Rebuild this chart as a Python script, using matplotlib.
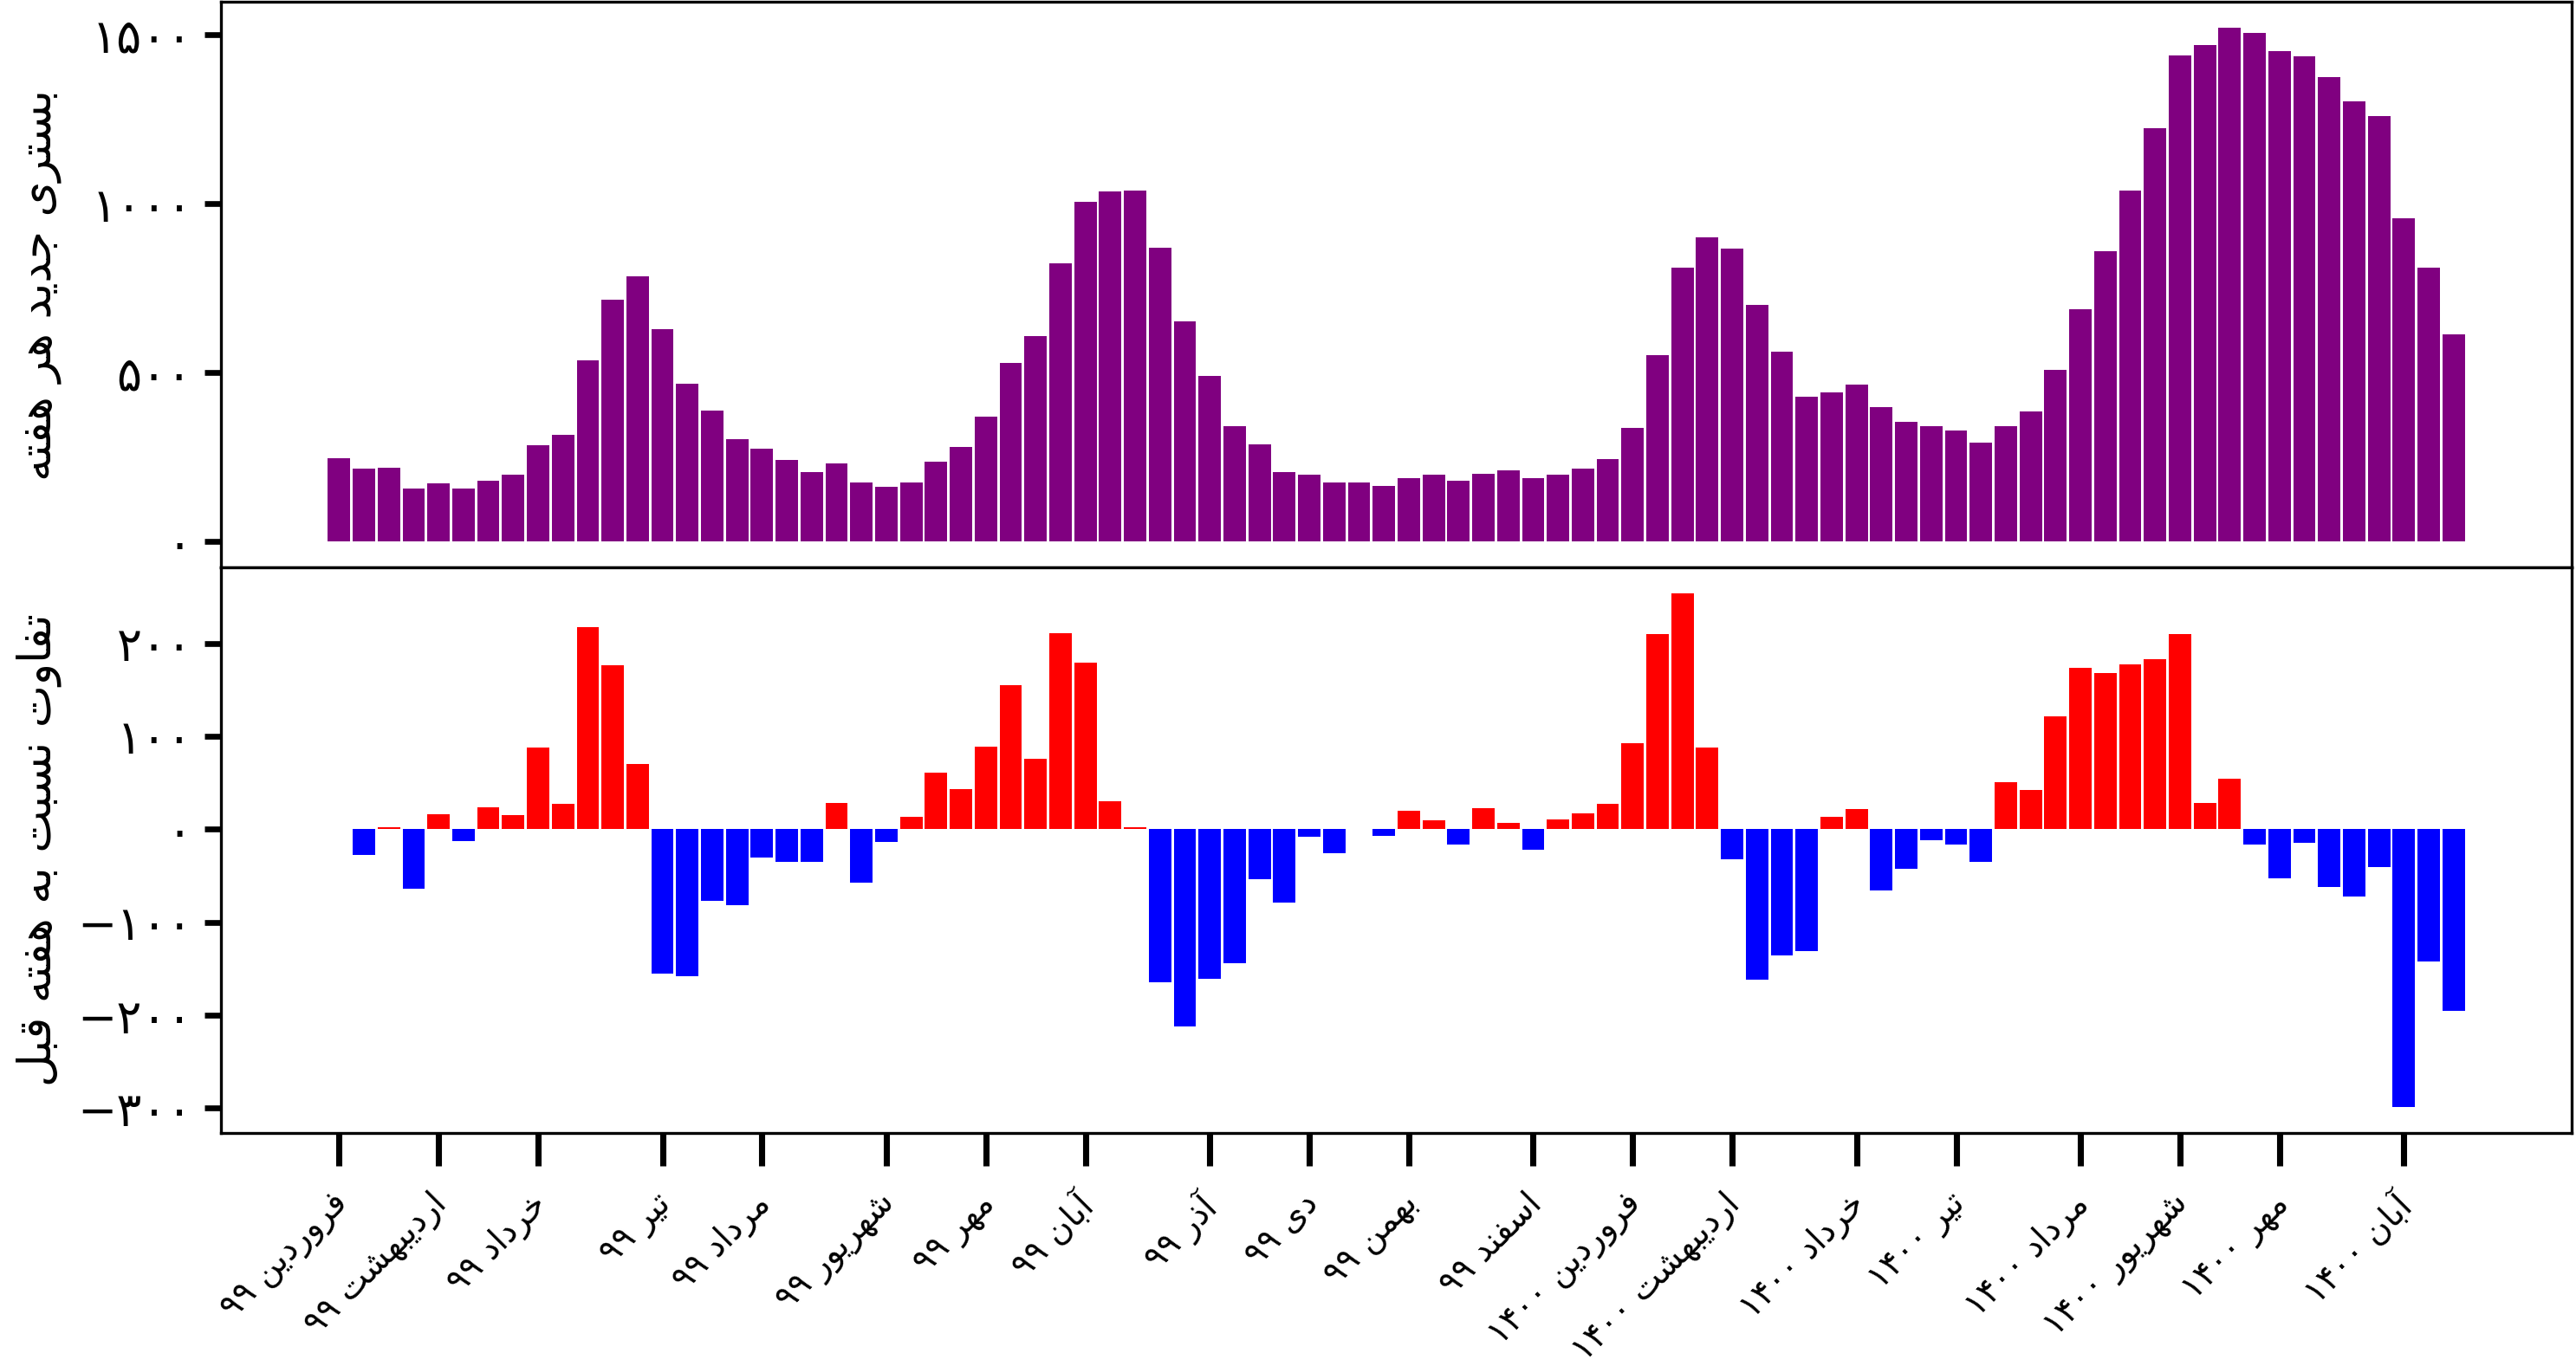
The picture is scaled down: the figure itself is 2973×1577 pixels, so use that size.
import numpy as np
import matplotlib
matplotlib.use('Agg')
import matplotlib.pyplot as plt
from matplotlib.ticker import FuncFormatter
from matplotlib.transforms import ScaledTranslation

plt.rcParams['font.family'] = ['DejaVu Sans']

# weekly new hospitalisations
weekly_admissions = [248, 217, 219, 156, 172, 158, 181, 197, 286, 315,
                     536, 716, 784, 629, 467, 389, 304, 276, 241, 205,
                     232, 176, 161, 174, 237, 281, 371, 529, 608, 824,
                     1005, 1036, 1038, 869, 652, 489, 342, 288, 207, 199,
                     174, 174, 166, 187, 197, 179, 201, 210, 189, 199,
                     215, 243, 337, 552, 811, 900, 867, 701, 563, 429,
                     442, 465, 399, 355, 342, 328, 292, 342, 386, 509,
                     688, 859, 1038, 1224, 1439, 1468, 1521, 1506, 1452, 1437,
                     1373, 1302, 1260, 956, 811, 614]

# change compared with the previous week
weekly_change = [np.nan, -28, 2, -64, 16, -13, 24, 15, 88, 27,
                 217, 176, 70, -155, -158, -77, -82, -30, -35, -35,
                 28, -57, -14, 13, 61, 43, 89, 155, 76, 211,
                 179, 30, 2, -165, -212, -161, -144, -54, -79, -8,
                 -26, 0, -7, 20, 10, -16, 23, 7, -22, 11,
                 17, 27, 93, 210, 254, 88, -32, -162, -136, -131,
                 13, 22, -66, -43, -12, -16, -35, 51, 42, 121,
                 174, 168, 177, 183, 210, 28, 54, -16, -53, -15,
                 -62, -72, -41, -299, -142, -195]

# month ticks (week index where each Persian month starts)
tick_weeks = [0, 4, 8, 13, 17, 22, 26, 30, 35, 39, 43, 48, 52, 56, 61, 65, 70, 74, 78, 83]
tick_months = ['فروردین', 'اردیبهشت', 'خرداد', 'تیر', 'مرداد', 'شهریور', 'مهر', 'آبان',
               'آذر', 'دی', 'بهمن', 'اسفند', 'فروردین', 'اردیبهشت', 'خرداد', 'تیر',
               'مرداد', 'شهریور', 'مهر', 'آبان']
tick_years = ['99'] * 12 + ['1400'] * 8

top_label = 'بستری جدید هر هفته'
bottom_label = 'تفاوت نسبت به هفته قبل'

# simple arabic shaping (matplotlib has no text shaping)
FORMS = {
    'ا': ('\uFE8D', '\uFE8E', None, None),
    'آ': ('\uFE81', '\uFE82', None, None),
    'ب': ('\uFE8F', '\uFE90', '\uFE91', '\uFE92'),
    'ت': ('\uFE95', '\uFE96', '\uFE97', '\uFE98'),
    'ج': ('\uFE9D', '\uFE9E', '\uFE9F', '\uFEA0'),
    'خ': ('\uFEA5', '\uFEA6', '\uFEA7', '\uFEA8'),
    'د': ('\uFEA9', '\uFEAA', None, None),
    'ذ': ('\uFEAB', '\uFEAC', None, None),
    'ر': ('\uFEAD', '\uFEAE', None, None),
    'ز': ('\uFEAF', '\uFEB0', None, None),
    'س': ('\uFEB1', '\uFEB2', '\uFEB3', '\uFEB4'),
    'ش': ('\uFEB5', '\uFEB6', '\uFEB7', '\uFEB8'),
    'ف': ('\uFED1', '\uFED2', '\uFED3', '\uFED4'),
    'ق': ('\uFED5', '\uFED6', '\uFED7', '\uFED8'),
    'ل': ('\uFEDD', '\uFEDE', '\uFEDF', '\uFEE0'),
    'م': ('\uFEE1', '\uFEE2', '\uFEE3', '\uFEE4'),
    'ن': ('\uFEE5', '\uFEE6', '\uFEE7', '\uFEE8'),
    'ه': ('\uFEE9', '\uFEEA', '\uFEEB', '\uFEEC'),
    'و': ('\uFEED', '\uFEEE', None, None),
    'ی': ('\uFBFC', '\uFBFD', '\uFBFE', '\uFBFF'),
}
FA_DIGITS = str.maketrans('0123456789-', '۰۱۲۳۴۵۶۷۸۹\u2212')


def shape(text):
    out = []
    for i, ch in enumerate(text):
        if ch not in FORMS:
            out.append(ch)
            continue
        iso, fin, ini, med = FORMS[ch]
        prev = text[i - 1] if i > 0 else None
        nxt = text[i + 1] if i < len(text) - 1 else None
        join_prev = prev in FORMS and FORMS[prev][2] is not None
        join_next = ini is not None and nxt in FORMS
        if join_prev and join_next:
            out.append(med)
        elif join_prev:
            out.append(fin)
        elif join_next:
            out.append(ini)
        else:
            out.append(iso)
    return ''.join(reversed(out))


x = np.arange(len(weekly_admissions))
change = np.array(weekly_change, dtype=float)
bar_colors = ['red' if v > 0 else 'blue' for v in np.nan_to_num(change)]

fig, (ax1, ax2) = plt.subplots(2, 1, sharex=True, figsize=(2973 / 300, 1577 / 300), dpi=300)
fig.subplots_adjust(left=0.0858, right=0.9983, top=0.9987, bottom=0.1706, hspace=0)

ax1.bar(x, weekly_admissions, width=0.9, color='purple')
ax2.bar(x, change, width=0.9, color=bar_colors)

# keep the 5% margin below zero like the original
ax1.use_sticky_edges = False
ax1.margins(y=0.05)

fmt = FuncFormatter(lambda v, pos: str(int(round(v))).translate(FA_DIGITS))
ax1.set_yticks([0, 500, 1000, 1500])
ax2.set_yticks([-300, -200, -100, 0, 100, 200])
for ax in (ax1, ax2):
    ax.yaxis.set_major_formatter(fmt)
    ax.tick_params(axis='y', labelsize=13, width=1.6, length=4.5)

ax1.set_ylabel(shape(top_label), fontsize=12.5)
ax2.set_ylabel(shape(bottom_label), fontsize=12.5)
ax1.yaxis.set_label_coords(-0.068, 0.5)
ax2.yaxis.set_label_coords(-0.068, 0.5)

labels = [y.translate(FA_DIGITS) + ' ' + shape(m) for m, y in zip(tick_months, tick_years)]
ax2.set_xticks(tick_weeks)
ax2.set_xticklabels(labels, rotation=45, ha='right', fontsize=9.3)
ax2.tick_params(axis='x', length=9, width=1.7, pad=6)
ax1.tick_params(axis='x', length=0)
for lbl in ax2.get_xticklabels():
    lbl.set_transform(lbl.get_transform() + ScaledTranslation(0.06, 0, fig.dpi_scale_trans))

fig.savefig('out.png', dpi=300)
